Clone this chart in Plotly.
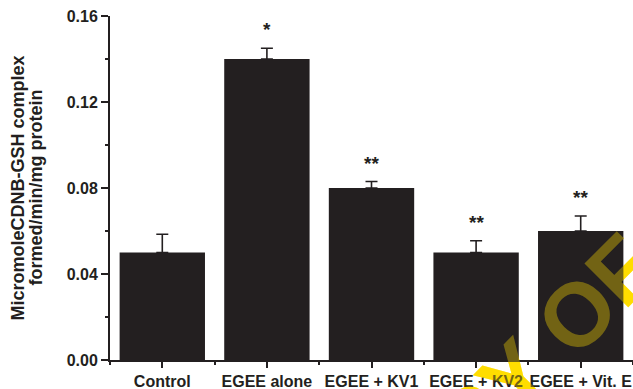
import plotly.graph_objects as go

# Glutathione S-transferase activity per treatment group
groups = ["Control", "EGEE alone", "EGEE + KV1", "EGEE + KV2", "EGEE + Vit. E"]
activity = [0.050, 0.140, 0.080, 0.050, 0.060]
sem = [0.0085, 0.005, 0.003, 0.0055, 0.007]
significance = ["", "*", "**", "**", "**"]

ink = "#231f20"
font_family = "Arial, Liberation Sans, Helvetica, sans-serif"
xpos = list(range(len(groups)))

PLOT_L, PLOT_W, PLOT_T, PLOT_H = 110, 523, 16, 344

fig = go.Figure()
fig.add_trace(go.Bar(
    x=xpos, y=activity, width=0.816,
    marker=dict(color=ink, line=dict(width=0)),
    error_y=dict(type="data", symmetric=False, array=sem, color=ink,
                 thickness=1.6, width=6),
    showlegend=False,
))

# significance markers above the error bars
for xi, v, e, s in zip(xpos, activity, sem, significance):
    if s:
        fig.add_annotation(x=xi, y=v + e, text=s, showarrow=False,
                           xanchor="center", yanchor="bottom", yshift=6,
                           font=dict(family=font_family, size=19,
                                     color=ink, weight="bold"))

# y-axis title in two lines
for px, line in ((17.5, "MicromoleCDNB-GSH complex"), (35.5, "formed/min/mg protein")):
    fig.add_annotation(xref="paper", yref="paper", x=(px - PLOT_L) / PLOT_W, y=0.5,
                       text=line, textangle=-90,
                       showarrow=False, xanchor="center", yanchor="middle",
                       font=dict(family=font_family, size=18, color=ink, weight="bold"))

# diagonal watermark: solid layer under the bars, translucent layer on top
wm_x = (492 - PLOT_L) / PLOT_W
wm_y = (PLOT_T + PLOT_H - 387) / PLOT_H
for layer, col in (("below", "#ffdd00"), ("above", "rgba(255,221,0,0.36)")):
    fig.add_shape(type="rect", xref="paper", yref="paper", layer=layer,
                  x0=wm_x - 0.005, x1=wm_x + 0.005, y0=wm_y - 0.005, y1=wm_y + 0.005,
                  line=dict(width=0), fillcolor="rgba(0,0,0,0)",
                  label=dict(text="COPY OF", textangle=-45, textposition="middle center",
                             padding=0,
                             font=dict(family=font_family, size=90, color=col,
                                       weight="bold")))

fig.update_layout(
    width=633, height=389,
    margin=dict(l=PLOT_L, r=633 - PLOT_L - PLOT_W, t=PLOT_T, b=389 - PLOT_T - PLOT_H),
    paper_bgcolor="white", plot_bgcolor="rgba(0,0,0,0)",
    font=dict(family=font_family, color=ink),
    xaxis=dict(
        range=[-0.5, 4.5], tickmode="array", tickvals=xpos, ticktext=groups,
        showgrid=False, zeroline=False, showline=True, linecolor=ink, linewidth=2,
        ticks="outside", ticklen=6, tickwidth=1.5, tickcolor=ink,
        tickfont=dict(family=font_family, size=16, color=ink, weight="bold"),
        minor=dict(tickmode="array", tickvals=[-0.5, 0.5, 1.5, 2.5, 3.5, 4.5],
                   ticks="outside", ticklen=3, tickwidth=1.5, tickcolor=ink),
        fixedrange=True,
    ),
    yaxis=dict(
        range=[0, 0.16], tickmode="array", tickvals=[0, 0.04, 0.08, 0.12, 0.16],
        ticktext=["0.00", "0.04", "0.08", "0.12", "0.16"],
        showgrid=False, zeroline=False, showline=True, linecolor=ink, linewidth=2,
        ticks="outside", ticklen=7, tickwidth=1.5, tickcolor=ink,
        tickfont=dict(family=font_family, size=16, color=ink, weight="bold"),
        minor=dict(tickmode="array", tickvals=[0.02, 0.06, 0.10, 0.14],
                   ticks="outside", ticklen=3, tickwidth=1.5, tickcolor=ink),
        fixedrange=True,
    ),
)

fig.write_html("out.html")
